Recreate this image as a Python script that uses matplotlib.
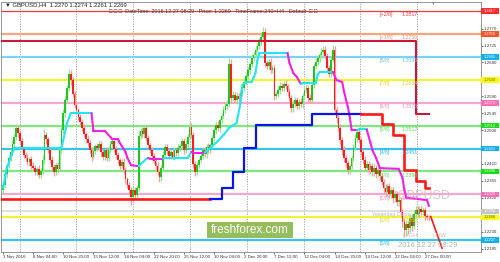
import numpy as np
import matplotlib
matplotlib.use("Agg")
import matplotlib.pyplot as plt
import matplotlib.transforms as mtransforms
from matplotlib.patches import Rectangle

plt.rcParams["font.family"] = ["Liberation Sans", "DejaVu Sans"]

# GBPUSD H4 closes, bar 0 = 3 Nov 2016 12:00, last bar = 27 Dec 08:00
first_open = 1.2340
closes = [
    1.2354, 1.2383, 1.2405, 1.2426, 1.2442, 1.2463, 1.2482, 1.2506, 1.2492, 1.2471,
    1.2453, 1.2434, 1.2426, 1.2415, 1.2423, 1.2405, 1.2399, 1.2389, 1.2397, 1.2381,
    1.2391, 1.2421, 1.2487, 1.2476, 1.2447, 1.2421, 1.2402, 1.2389, 1.2407, 1.2397,
    1.2447, 1.2500, 1.2545, 1.2580, 1.2612, 1.2649, 1.2633, 1.2596, 1.2567, 1.2554,
    1.2535, 1.2522, 1.2506, 1.2490, 1.2476, 1.2466, 1.2447, 1.2429, 1.2445, 1.2458,
    1.2453, 1.2463, 1.2442, 1.2429, 1.2447, 1.2426, 1.2447, 1.2463, 1.2471, 1.2450,
    1.2434, 1.2421, 1.2405, 1.2415, 1.2394, 1.2370, 1.2354, 1.2341, 1.2322, 1.2341,
    1.2327, 1.2346, 1.2485, 1.2498, 1.2490, 1.2506, 1.2479, 1.2460, 1.2447, 1.2431,
    1.2418, 1.2405, 1.2389, 1.2375, 1.2399, 1.2434, 1.2455, 1.2445, 1.2431, 1.2442,
    1.2429, 1.2447, 1.2439, 1.2453, 1.2458, 1.2471, 1.2447, 1.2463, 1.2482, 1.2509,
    1.2487, 1.2410, 1.2389, 1.2407, 1.2421, 1.2431, 1.2447, 1.2437, 1.2455, 1.2447,
    1.2460, 1.2479, 1.2500, 1.2514, 1.2506, 1.2527, 1.2538, 1.2554, 1.2564, 1.2570,
    1.2676, 1.2586, 1.2594, 1.2580, 1.2591, 1.2583, 1.2599, 1.2612, 1.2628, 1.2644,
    1.2660, 1.2676, 1.2692, 1.2700, 1.2714, 1.2724, 1.2735, 1.2748, 1.2761, 1.2678,
    1.2671, 1.2681, 1.2660, 1.2665, 1.2591, 1.2596, 1.2607, 1.2617, 1.2612, 1.2623,
    1.2617, 1.2602, 1.2586, 1.2559, 1.2570, 1.2580, 1.2564, 1.2575, 1.2570, 1.2591,
    1.2607, 1.2612, 1.2586, 1.2580, 1.2620, 1.2671, 1.2681, 1.2692, 1.2700, 1.2708,
    1.2714, 1.2697, 1.2665, 1.2649, 1.2687, 1.2714, 1.2554, 1.2532, 1.2506, 1.2474,
    1.2447, 1.2426, 1.2412, 1.2394, 1.2405, 1.2426, 1.2453, 1.2479, 1.2495, 1.2474,
    1.2442, 1.2421, 1.2399, 1.2410, 1.2394, 1.2405, 1.2389, 1.2399, 1.2383, 1.2394,
    1.2378, 1.2362, 1.2346, 1.2335, 1.2351, 1.2330, 1.2341, 1.2319, 1.2330, 1.2309,
    1.2314, 1.2282, 1.2256, 1.2234, 1.2250, 1.2240, 1.2266, 1.2245, 1.2277, 1.2288,
    1.2277, 1.2290, 1.2282, 1.2288, 1.2272, 1.2270, 1.2269,
]
# wicks beyond the body, in pips
hi_wick = [
    8, 10, 6, 9, 7, 12, 8, 10, 6, 8, 9, 5, 7, 10, 6, 8, 9, 7, 6, 10,
    8, 12, 15, 9, 7, 6, 10, 8, 9, 7, 11, 8, 12, 10, 9, 14, 10, 8, 7, 9,
    6, 8, 7, 9, 6, 10, 8, 7, 9, 6, 8, 10, 7, 9, 6, 8, 11, 7, 9, 8,
    7, 9, 6, 8, 10, 7, 6, 9, 8, 10, 7, 9, 12, 8, 10, 9, 7, 8, 6, 9,
    8, 7, 9, 6, 8, 10, 9, 7, 8, 6, 9, 7, 8, 10, 6, 9, 8, 10, 9, 12,
    10, 8, 7, 9, 6, 8, 9, 7, 8, 10, 6, 9, 8, 7, 9, 6, 8, 10, 7, 9,
    16, 12, 9, 8, 10, 7, 9, 8, 10, 7, 9, 8, 10, 7, 9, 8, 10, 9, 13, 10,
    9, 8, 10, 7, 9, 8, 10, 12, 9, 8, 10, 7, 9, 8, 10, 7, 9, 8, 10, 9,
    8, 10, 7, 9, 12, 8, 10, 9, 8, 10, 11, 9, 7, 8, 10, 12, 9, 8, 7, 9,
    8, 10, 7, 9, 6, 8, 10, 12, 9, 8, 7, 9, 10, 8, 9, 7, 8, 10, 7, 9,
    8, 9, 7, 10, 8, 9, 7, 8, 10, 9, 8, 7, 9, 10, 8, 9, 12, 10, 8, 9,
    10, 8, 9, 7, 8, 6, 4,
]
lo_wick = [
    10, 7, 9, 6, 8, 7, 10, 8, 9, 7, 6, 8, 9, 7, 10, 8, 6, 9, 8, 7,
    9, 8, 10, 12, 9, 8, 7, 10, 9, 8, 7, 9, 8, 10, 8, 9, 12, 9, 8, 10,
    8, 9, 7, 8, 10, 9, 8, 10, 7, 9, 8, 7, 10, 9, 8, 7, 9, 8, 10, 9,
    8, 10, 9, 7, 10, 12, 9, 11, 21, 9, 10, 8, 7, 9, 8, 10, 9, 7, 8, 10,
    9, 10, 8, 12, 9, 7, 8, 10, 9, 8, 7, 9, 8, 7, 9, 8, 10, 9, 8, 7,
    9, 10, 12, 9, 8, 7, 9, 8, 10, 7, 9, 8, 7, 9, 8, 10, 9, 7, 8, 9,
    8, 10, 9, 8, 10, 7, 9, 8, 7, 9, 8, 10, 7, 9, 8, 7, 9, 8, 7, 10,
    9, 10, 8, 9, 12, 9, 8, 10, 7, 9, 8, 10, 9, 12, 10, 9, 8, 7, 9, 10,
    9, 8, 10, 9, 8, 7, 9, 8, 10, 9, 8, 9, 10, 9, 8, 7, 10, 12, 9, 10,
    12, 10, 9, 11, 10, 9, 8, 7, 10, 9, 12, 10, 9, 11, 10, 9, 12, 10, 9, 8,
    10, 9, 12, 10, 9, 11, 10, 12, 9, 10, 11, 12, 14, 19, 12, 15, 10, 12, 9, 10,
    9, 10, 8, 9, 10, 8, 8,
]

date_labels = ["3 Nov 2016", "8 Nov 04:00", "10 Nov 20:00", "15 Nov 12:00", "18 Nov 04:00",
               "22 Nov 20:00", "25 Nov 12:00", "30 Nov 04:00", "2 Dec 20:00", "7 Dec 12:00",
               "12 Dec 04:00", "14 Dec 20:00", "19 Dec 12:00", "22 Dec 04:00", "27 Dec 00:00"]
label_bars = list(range(0, 225, 16))
grid_bars = [9, 39, 69, 99, 129.5, 159.5, 189.5, 219.5]
y_ticks = [1.2185, 1.2230, 1.2275, 1.2320, 1.2365, 1.2410, 1.2455,
           1.2500, 1.2545, 1.2590, 1.2635, 1.2680, 1.2725, 1.2770]

# Murrey math levels
mm_names = ["[+2/8]", "[+1/8]", "[8/8]", "[7/8]", "[6/8]", "[5/8]",
            "[4/8]", "[3/8]", "[2/8]", "[1/8]", "[0/8]"]
mm_prices = [1.2817, 1.2756, 1.2695, 1.2634, 1.2573, 1.2512,
             1.2451, 1.2390, 1.2329, 1.2268, 1.2207]
mm_colors = ["#F03C3C", "#F8A47E", "#7CD3F5", "#F2F23A", "#F7A6CF", "#7DE87D",
             "#35C3F0", "#7DE87D", "#F7A6CF", "#F2F23A", "#35C3F0"]
mm_text = ["#F03C3C", "#F59070", "#6CC3EB", "#D8D820", "#F090C0", "#5FD85F",
           "#30B8E8", "#5FD85F", "#F090C0", "#D8D820", "#30B8E8"]
mm_box = ["#FF2A2A", "#FF5522", "#12B0EE", "#FFFF00", "#FF6EB4", "#18DD18",
          "#12B0EE", "#18DD18", "#FF6EB4", "#FFFF00", "#12B0EE"]
yclose = 1.2284

# trend line (cyan while rising, magenta while falling)
trend_bars = [0, 2, 6, 31, 32, 34, 36, 47,
              48, 54, 58, 61, 62, 65, 66, 68, 72,
              76, 77, 78, 85, 86, 98, 100, 101, 107,
              113, 117, 120, 124, 126, 127, 129, 132, 134, 135, 136, 151,
              152, 154, 156, 158, 159, 166, 167, 168, 175,
              177, 180, 181, 183, 184, 185, 188, 189, 193,
              195, 196, 198, 200, 210, 212, 213, 214, 225, 226]
trend_vals = [1.2346, 1.2399, 1.2453, 1.2453, 1.2474, 1.2519, 1.2545, 1.2545,
              1.2498, 1.2498, 1.2476, 1.2476, 1.2466, 1.2442, 1.2426, 1.2407, 1.2404,
              1.2423, 1.2426, 1.2424, 1.2424, 1.2426, 1.2426, 1.2442, 1.2440, 1.2440,
              1.2466, 1.2487, 1.2506, 1.2519, 1.2572, 1.2620, 1.2628, 1.2628, 1.2652, 1.2686, 1.2705, 1.2705,
              1.2679, 1.2652, 1.2641, 1.2623, 1.2625, 1.2625, 1.2647, 1.2655, 1.2655,
              1.2633, 1.2628, 1.2602, 1.2562, 1.2535, 1.2500, 1.2500, 1.2502, 1.2502,
              1.2466, 1.2447, 1.2426, 1.2399, 1.2397, 1.2373, 1.2341, 1.2320, 1.2314, 1.2298]

# step stop line: red and blue buffers
stop_red1_bars = [-2, 110]
stop_red1_vals = [1.2317, 1.2317]
stop_blue_bars = [110, 116, 122, 128, 134, 164, 190]
stop_blue_vals = [1.2317, 1.2346, 1.2389, 1.2453, 1.2514, 1.2543, 1.2543]
stop_red2_bars = [190, 201, 207, 213, 219, 224, 226]
stop_red2_vals = [1.2543, 1.2516, 1.2487, 1.2394, 1.2364, 1.2346, 1.2346]
proj_bars = [227, 233]
proj_vals = [1.2270, 1.2186]
# daily high line
dh_bars = [-2, 219, 226]
dh_vals = [1.2737, 1.2543, 1.2543]

fig = plt.figure(figsize=(5, 2.62), dpi=100)
ax = fig.add_axes([0.002, 0.0382, 0.959, 0.9523])
ax.set_xlim(-1.06, 253.4)
ax.set_ylim(1.21759, 1.28395)

for g in grid_bars:
    ax.axvline(g, color="#9A9A9A", lw=0.6, ls=(0, (1.5, 1.5)), zorder=0.5)

for p, col in zip(mm_prices, mm_colors):
    ax.axhline(p, color=col, lw=0.9 if p == mm_prices[0] else 1.6, zorder=1)
ax.axhline(yclose, color="#DADADA", lw=1.2, zorder=1)

ax.text(0.882, 0.224, "GBPUSD", transform=ax.transAxes, fontsize=9,
        color="#CFCFCF", ha="center", va="center", zorder=0.8)

# candles
c = np.array(closes)
o = np.concatenate([[first_open], c[:-1]])
hi = np.maximum(o, c) + np.array(hi_wick) * 1e-4
lo = np.minimum(o, c) - np.array(lo_wick) * 1e-4
bars = np.arange(len(c))
up = c >= o
ax.vlines(bars[up], lo[up], hi[up], color="#93E493", lw=0.9, zorder=2)
ax.vlines(bars[~up], lo[~up], hi[~up], color="#FF9A9A", lw=0.9, zorder=2)
body = np.maximum(np.abs(c - o), 0.0001)
ax.bar(bars[up], body[up], bottom=o[up], width=0.9, color="#1EC81E", lw=0, zorder=2.5)
ax.bar(bars[~up], body[~up], bottom=c[~up], width=0.9, color="#FF1E1E", lw=0, zorder=2.5)

# trend line coloured by direction
state = "up"
for i in range(len(trend_bars) - 1):
    v0, v1 = trend_vals[i], trend_vals[i + 1]
    if v1 > v0:
        state = "up"
    elif v1 < v0:
        state = "dn"
    ax.plot(trend_bars[i:i + 2], trend_vals[i:i + 2], lw=1.5,
            color="#22E6F5" if state == "up" else "#F020E6",
            solid_capstyle="round", zorder=4)

ax.plot(dh_bars, dh_vals, drawstyle="steps-post", color="#C8193C", lw=1.5, zorder=3.5)
ax.plot(stop_red1_bars, stop_red1_vals, drawstyle="steps-post", color="#FF1A1A", lw=1.9, zorder=4)
ax.plot(stop_blue_bars, stop_blue_vals, drawstyle="steps-post", color="#0A14E6", lw=1.6, zorder=4)
ax.plot(stop_red2_bars, stop_red2_vals, drawstyle="steps-post", color="#FF1A1A", lw=1.9, zorder=4)
ax.plot(proj_bars, proj_vals, color="#FF1A1A", lw=1.2, zorder=4)

# level labels inside the chart and price boxes on the scale
trans = mtransforms.blended_transform_factory(ax.transAxes, ax.transData)
for name, p, col, box in zip(mm_names, mm_prices, mm_text, mm_box):
    ax.text(0.790, p - 0.0003, name, transform=trans, color=col, fontsize=3.8, va="top", zorder=5)
    if p != mm_prices[-1]:
        # the [0/8] value is covered by the time stamp in the original
        ax.text(0.836, p - 0.0003, f"{p:.4f}", transform=trans, color=col, fontsize=3.8,
                va="top", zorder=5)
    ax.add_patch(Rectangle((1.0, p - 0.00075), 0.0386, 0.0015, transform=trans,
                           facecolor=box, edgecolor="none", clip_on=False, zorder=6))
    ax.text(1.0193, p, f"{p:.4f}", transform=trans, fontsize=2.8, ha="center", va="center",
            color="#555500" if box == "#FFFF00" else "white", clip_on=False, zorder=7)
ax.add_patch(Rectangle((1.0, yclose - 0.00075), 0.0386, 0.0015, transform=trans,
                       facecolor="#C4C4C4", edgecolor="none", clip_on=False, zorder=6))
ax.text(1.0193, yclose, f"{yclose:.4f}", transform=trans, fontsize=2.8, ha="center",
        va="center", color="white", clip_on=False, zorder=7)

ax.text(0.774, 0.152, "Yesterday Close", transform=ax.transAxes, fontsize=3.8,
        color="#B8B8B8", va="center", zorder=5)
ax.text(0.838, 0.068, "HIGH", transform=ax.transAxes, fontsize=4.5, color="#C4C4C4", va="center", zorder=5)
ax.text(0.899, 0.068, "LOW", transform=ax.transAxes, fontsize=4.5, color="#C4C4C4", va="center", zorder=5)
ax.text(0.828, 0.026, "2016.12.27 08:29", transform=ax.transAxes, fontsize=5.5,
        color="#B4B4B4", va="center", zorder=5.5)

ax.add_patch(Rectangle((0.4296, 0.0561), 0.1794, 0.0641, transform=ax.transAxes,
                       facecolor="#8CB84E", edgecolor="none", alpha=0.92, zorder=6))
ax.text(0.519, 0.087, "freshforex.com", transform=ax.transAxes, fontsize=8.5,
        color="white", ha="center", va="center", zorder=7)

ax.text(0.008, 0.99, "\u25bc GBPUSD,H4  1.2270 1.2274 1.2261 1.2269", transform=ax.transAxes,
        fontsize=4.2, color="#202020", va="center", zorder=8)
ax.text(0.226, 0.962, "\u25a1 \u25a1 \u25a1  DateTime: 2016.12.27 08:29   Price: 1.2269   TimeFrame:240=H4   Default  \u25a1 \u25a1",
        transform=ax.transAxes, fontsize=4.0, color="#404040", va="center", zorder=8)
ax.text(0.899, 0.995, "\u25bc", transform=ax.transAxes, fontsize=3.5, color="#909090",
        ha="center", va="center", zorder=8)

# scale labels that sit under a price box are not shown
box_prices = mm_prices + [yclose]
ax.yaxis.tick_right()
ax.set_yticks(y_ticks)
ax.set_yticklabels(["" if min(abs(t - b) for b in box_prices) < 0.0009 else f"{t:.4f}"
                    for t in y_ticks])
ax.tick_params(axis="y", labelsize=3.2, length=1.5, pad=1, colors="#333333", width=0.5)
ax.set_xticks(label_bars)
ax.set_xticklabels(date_labels)
ax.tick_params(axis="x", labelsize=3.2, length=1.5, pad=0.8, colors="#333333", width=0.5)
for lab in ax.get_xticklabels():
    lab.set_ha("left")
for s in ax.spines.values():
    s.set_color("#888888")
    s.set_linewidth(0.6)

fig.savefig("out.png", dpi=100)
